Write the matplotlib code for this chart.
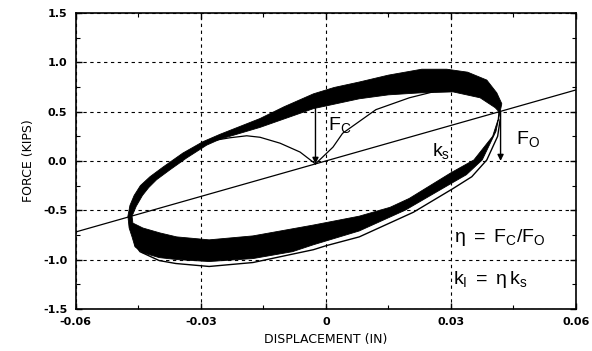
import numpy as np
import matplotlib
matplotlib.use("Agg")
import matplotlib.pyplot as plt
from matplotlib.path import Path
from matplotlib.patches import PathPatch

plt.rcParams['font.family'] = ['DejaVu Sans']
plt.rcParams['mathtext.fontset'] = 'custom'
plt.rcParams['mathtext.rm'] = 'Liberation Sans'
plt.rcParams['mathtext.it'] = 'Liberation Sans'

# stiffness line k_s (kips/in)
ks = 12.0
ks_x = [-0.06, 0.06]

# band of steady cycles: upper band, outer (top) and inner (bottom) edges
up_out_x = [-0.0475, -0.0470, -0.0460, -0.0445, -0.0422, -0.0390, -0.0343, -0.0295, -0.0254, -0.0200,
            -0.0158, -0.0100, -0.0030, 0.0020, 0.0080, 0.0150, 0.0230, 0.0290, 0.0340, 0.0386,
            0.0410, 0.0422, 0.0418]
up_out_F = [-0.56, -0.45, -0.35, -0.25, -0.16, -0.06, 0.08, 0.195, 0.27, 0.36,
            0.43, 0.55, 0.68, 0.745, 0.80, 0.87, 0.93, 0.93, 0.90, 0.82,
            0.69, 0.58, 0.50]
up_in_x = [-0.0465, -0.0455, -0.0440, -0.0425, -0.0406, -0.0374, -0.0334, -0.0286, -0.0254, -0.0158,
           -0.0030, 0.0080, 0.0150, 0.0226, 0.0305, 0.0370, 0.0406, 0.0415]
up_in_F = [-0.56, -0.46, -0.35, -0.27, -0.19, -0.09, 0.03, 0.16, 0.22, 0.34,
           0.53, 0.63, 0.67, 0.69, 0.70, 0.64, 0.54, 0.50]

# lower band, outer (bottom) and inner (top) edges
lo_out_x = [-0.0475, -0.0472, -0.0465, -0.0458, -0.0440, -0.0400, -0.0358, -0.0280, -0.0175, -0.0080,
            -0.0030, 0.0080, 0.0190, 0.0300, 0.0337, 0.0375, 0.0408, 0.0418]
lo_out_F = [-0.56, -0.68, -0.77, -0.87, -0.93, -0.98, -1.00, -1.02, -0.99, -0.92,
            -0.85, -0.71, -0.50, -0.23, -0.14, 0.01, 0.30, 0.50]
lo_in_x = [-0.0465, -0.0463, -0.0439, -0.0398, -0.0358, -0.0280, -0.0175, -0.0030, 0.0080,
           0.0154, 0.0200, 0.0300, 0.0355, 0.0400, 0.0413, 0.0415]
lo_in_F = [-0.56, -0.63, -0.68, -0.73, -0.77, -0.80, -0.76, -0.65, -0.56,
           -0.47, -0.38, -0.12, 0.01, 0.25, 0.42, 0.50]

# first (largest) cycle, lower branch
first_x = [-0.0458, -0.0446, -0.0400, -0.0360, -0.0280, -0.0175, -0.0030, 0.0000, 0.0080,
           0.0210, 0.0305, 0.0350, 0.0386, 0.0412, 0.0418]
first_F = [-0.85, -0.92, -1.01, -1.04, -1.07, -1.03, -0.90, -0.86, -0.77,
           -0.52, -0.28, -0.16, 0.01, 0.25, 0.42]

# initial loading curves from the centre
ca_x = [-0.0025, -0.0062, -0.0110, -0.0158, -0.0190, -0.0230, -0.0265]
ca_F = [-0.03, 0.09, 0.18, 0.24, 0.255, 0.235, 0.21]
cb_x = [-0.0025, 0.0017, 0.0040, 0.0080, 0.0120, 0.0200, 0.0257]
cb_F = [-0.03, 0.14, 0.28, 0.40, 0.52, 0.64, 0.70]

# F_C and F_O arrows (x, F start, F end)
fc_arrow = (-0.0025, 0.53, -0.03)
fo_arrow = (0.0419, 0.50, 0.00)

fig = plt.figure(figsize=(5.92, 3.51), dpi=100)
ax = fig.add_axes([0.128, 0.120, 0.845, 0.843])

# band as ring: outer loop clockwise, inner loop counter-clockwise
outer = list(zip(up_out_x, up_out_F)) + list(zip(lo_out_x, lo_out_F))[::-1]
inner = list(zip(lo_in_x, lo_in_F)) + list(zip(up_in_x, up_in_F))[::-1]
verts = outer + [outer[0]] + inner + [inner[0]]
codes = ([Path.MOVETO] + [Path.LINETO] * (len(outer) - 1) + [Path.CLOSEPOLY] +
         [Path.MOVETO] + [Path.LINETO] * (len(inner) - 1) + [Path.CLOSEPOLY])
ax.add_patch(PathPatch(Path(verts, codes), facecolor='black', edgecolor='black', lw=0.6,
                       joinstyle='round', zorder=3))

ax.plot(first_x, first_F, color='black', lw=1.0, solid_joinstyle='round', zorder=3)
ax.plot(ca_x, ca_F, color='black', lw=0.9, solid_joinstyle='round', zorder=3)
ax.plot(cb_x, cb_F, color='black', lw=0.9, solid_joinstyle='round', zorder=3)
ax.plot(ks_x, [ks * v for v in ks_x], color='black', lw=0.9, zorder=3)

for xa, f0, f1 in (fc_arrow, fo_arrow):
    ax.annotate('', xy=(xa, f1), xytext=(xa, f0),
                arrowprops=dict(arrowstyle='-|>', color='black', lw=1.0,
                                mutation_scale=9, shrinkA=0, shrinkB=0), zorder=4)

tfs = 14
ax.text(0.0004, 0.36, r'$\mathrm{F_C}$', fontsize=tfs, ha='left', va='center')
ax.text(0.0255, 0.10, r'$\mathrm{k_s}$', fontsize=tfs, ha='left', va='center')
ax.text(0.0455, 0.22, r'$\mathrm{F_O}$', fontsize=tfs, ha='left', va='center')
ax.text(0.0308, -0.78, r'$\mathrm{\eta\ =\ F_C/F_O}$', fontsize=tfs, ha='left', va='center')
ax.text(0.0305, -1.20, r'$\mathrm{k_I\ =\ \eta\,k_s}$', fontsize=tfs, ha='left', va='center')

ax.set_xlim(-0.06, 0.06)
ax.set_ylim(-1.5, 1.5)
ax.set_xticks([-0.06, -0.03, 0, 0.03, 0.06])
ax.set_xticklabels(['-0.06', '-0.03', '0', '0.03', '0.06'])
ax.set_yticks([-1.5, -1.0, -0.5, 0.0, 0.5, 1.0, 1.5])
ax.set_yticklabels(['-1.5', '-1.0', '-0.5', '0.0', '0.5', '1.0', '1.5'])
ax.set_xticks(np.arange(-0.06, 0.0601, 0.015), minor=True)
ax.set_yticks(np.arange(-1.5, 1.501, 0.25), minor=True)
ax.tick_params(which='both', direction='in', top=True, right=True, labelsize=8, pad=6)
ax.tick_params(which='major', length=4, width=1)
ax.tick_params(which='minor', length=3, width=0.8)
for lab in ax.get_xticklabels() + ax.get_yticklabels():
    lab.set_fontweight('bold')
ax.grid(True, which='major', color='black', linestyle=(0, (3, 3.2)), lw=0.8, zorder=1)
ax.set_axisbelow(True)
for s in ax.spines.values():
    s.set_linewidth(1.2)

ax.set_xlabel('DISPLACEMENT (IN)', fontsize=9, labelpad=4)
ax.set_ylabel('FORCE (KIPS)', fontsize=9, labelpad=6)

fig.savefig('out.png', dpi=100)
